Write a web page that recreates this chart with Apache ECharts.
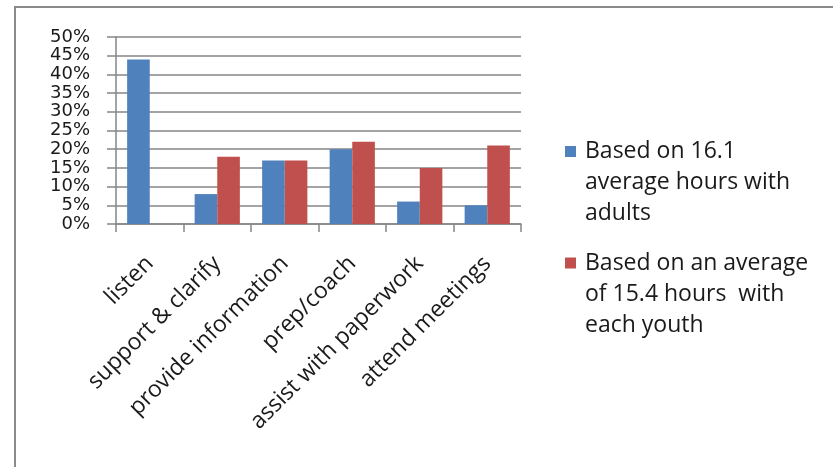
<!DOCTYPE html>
<html>
<head>
<meta charset="utf-8">
<script src="https://cdn.jsdelivr.net/npm/echarts@6/dist/echarts.min.js"></script>
<style>
html,body{margin:0;padding:0;background:#fff;width:833px;height:467px;overflow:hidden;}
#frame{position:absolute;left:14px;top:6px;width:900px;height:600px;border-left:2px solid #8a8a8a;border-top:2px solid #8a8a8a;}
#chart{position:absolute;left:0;top:0;width:833px;height:467px;}
</style>
</head>
<body>
<div id="frame"></div>
<div id="chart"></div>
<script>
const categories = ['listen', 'support & clarify', 'provide information', 'prep/coach', 'assist with paperwork', 'attend meetings'];
const adultsName = 'Based on 16.1\naverage hours with\nadults';
const youthName = 'Based on an average\nof 15.4 hours  with\neach youth';
const adultsValues = [44, 8, 17, 20, 6, 5];
const youthValues = [0, 18, 17, 22, 15, 21];

const chart = echarts.init(document.getElementById('chart'), null, {renderer: 'canvas'});
const legendIcon = 'path://M0,10h11v11h-11z M0,0 M15,93';
chart.setOption({
  animation: false,
  backgroundColor: 'transparent',
  grid: {left: 116, right: 312, top: 37, bottom: 243, containLabel: false},
  legend: {
    orient: 'vertical',
    left: 565,
    top: 136,
    itemWidth: 15,
    itemHeight: 93,
    itemGap: 18.5,
    padding: 0,
    data: [{name: adultsName, icon: legendIcon}, {name: youthName, icon: legendIcon}],
    textStyle: {fontFamily: 'Open Sans', fontSize: 23, color: '#1a1a1a', lineHeight: 31}
  },
  xAxis: {
    type: 'category',
    data: categories,
    axisLine: {lineStyle: {color: '#868686', width: 1.5}},
    axisTick: {show: true, length: 8, lineStyle: {color: '#868686', width: 1.5}},
    axisLabel: {rotate: 45, margin: 36, interval: 0, fontFamily: 'Open Sans', fontSize: 23, color: '#1a1a1a'}
  },
  yAxis: {
    type: 'value',
    min: 0, max: 50, interval: 5,
    axisLine: {show: true, lineStyle: {color: '#868686', width: 1.5}},
    axisTick: {show: true, length: 9, lineStyle: {color: '#868686', width: 1.5}},
    splitLine: {lineStyle: {color: '#868686', width: 1.5}},
    axisLabel: {formatter: '{value}%', margin: 26, fontFamily: 'DejaVu Sans', fontSize: 18, color: '#1a1a1a', lineHeight: 14, showMinLabel: true, showMaxLabel: true}
  },
  series: [
    {name: adultsName, type: 'bar', data: adultsValues, barGap: '0%', barCategoryGap: '33%', itemStyle: {color: '#4F81BD'}},
    {name: youthName, type: 'bar', data: youthValues, barGap: '0%', barCategoryGap: '33%', itemStyle: {color: '#C0504D'}}
  ]
});
</script>
</body>
</html>
